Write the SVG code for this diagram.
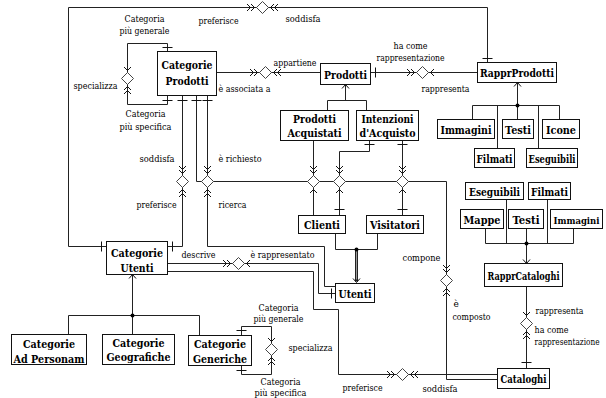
<svg xmlns="http://www.w3.org/2000/svg" xmlns:xlink="http://www.w3.org/1999/xlink" width="606" height="398" viewBox="0 0 606 398">
<style>
.b{fill:#fff;stroke:#111;stroke-width:1}
.t{font-family:"DejaVu Serif",serif;font-size:10.5px;font-weight:700;text-anchor:middle;fill:#000}
.l{font-family:"DejaVu Serif",serif;font-size:9px;fill:#000}
.m{text-anchor:middle}
.e{text-anchor:end}
.c{fill:none;stroke:#222;stroke-width:1}
.dm{fill:#fff;stroke:#444;stroke-width:1}
</style>
<defs>
<path id="c2" d="M-5.5,-3.5 L-2,0 L-5.5,3.5 M-9.5,-3.5 L-6,0 L-9.5,3.5" fill="none" stroke="#111"/>
<path id="c1" d="M-5.5,-3.5 L-2,0 L-5.5,3.5" fill="none" stroke="#111"/>
<path id="ah" d="M-4,-3.5 L0,0 L-4,3.5" fill="none" stroke="#111"/>
<path id="dm" class="dm" d="M-6,0 L0,-6 L6,0 L0,6 Z"/>
<path id="th" d="M0,-5 V5" fill="none" stroke="#111"/>
<path id="tv" d="M-5,0 H5" fill="none" stroke="#111"/>
</defs>
<rect width="606" height="398" fill="#fff"/>
<g transform="translate(0.5,0.5)">
<g id="connectors">
<path class="c" d="M106,246 H68 V7 H487 V62"/>
<path class="c" d="M167,51 V43 H127 V104 H167 V95"/>
<path class="c" d="M216,72 H320"/>
<path class="c" d="M370,72 H477"/>
<path class="c" d="M345,84 V100 M327,110 V100 H366 V110"/>
<path class="c" d="M517,82 V105 M472,119 V105 H559 V119 M497,148 V105 M517,105 V119 M538,148 V105"/>
<path class="c" d="M182,95 V246 H167"/>
<path class="c" d="M196,95 V181 H446 V379 H497"/>
<path class="c" d="M207,95 V246 H324 V286 H335"/>
<path class="c" d="M313,140 V215"/>
<path class="c" d="M369,140 V151 H339 V215"/>
<path class="c" d="M402,140 V215"/>
<path class="c" d="M335,233 V249 H377 V233"/>
<path d="M356,249 V281" fill="none" stroke="#222" stroke-width="3"/>
<path d="M356,250 V279" fill="none" stroke="#999" stroke-width="1"/>
<path class="c" d="M167,263 H318 V293 H335"/>
<path class="c" d="M167,271 H313 V309 H338 V374 H497"/>
<path class="c" d="M132,274 V315 M68,334 V315 H199 V335 M132,315 V334"/>
<path class="c" d="M241,335 V326 H271 V374 H241 V365"/>
<path class="c" d="M526,243 V263 M485,228 V243 H573 V228 M506,199 V243 M526,228 V243 M547,199 V243"/>
<path class="c" d="M526,286 V368"/>
<g fill="#000">
<circle cx="517" cy="105" r="2"/><circle cx="526" cy="243" r="2"/><circle cx="132" cy="315" r="2"/><circle cx="356" cy="249" r="2"/>
</g>
<use xlink:href="#ah" transform="translate(345,84) rotate(-90)"/>
<use xlink:href="#ah" transform="translate(517,82) rotate(-90)"/>
<use xlink:href="#ah" transform="translate(132,274) rotate(-90)"/>
<use xlink:href="#ah" transform="translate(526,263) rotate(90)"/>
<use xlink:href="#ah" transform="translate(356,282) rotate(90)"/>
<use xlink:href="#tv" transform="translate(487,58)"/>
<use xlink:href="#th" transform="translate(375,72)"/>
<use xlink:href="#tv" transform="translate(167,47)"/>
<use xlink:href="#tv" transform="translate(167,100)"/>
<use xlink:href="#tv" transform="translate(182,100)"/>
<use xlink:href="#tv" transform="translate(196,100)"/>
<use xlink:href="#tv" transform="translate(207,100)"/>
<use xlink:href="#tv" transform="translate(369,144)"/>
<use xlink:href="#tv" transform="translate(402,144)"/>
<use xlink:href="#tv" transform="translate(339,209)"/>
<use xlink:href="#tv" transform="translate(402,209)"/>
<use xlink:href="#th" transform="translate(101,246)"/>
<use xlink:href="#th" transform="translate(172,246)"/>
<use xlink:href="#th" transform="translate(331,293)"/>
<use xlink:href="#tv" transform="translate(241,330)"/>
<use xlink:href="#tv" transform="translate(241,370)"/>
<use xlink:href="#tv" transform="translate(526,362)"/>
<use xlink:href="#dm" x="262" y="7"/>
<use xlink:href="#c2" transform="translate(256,7)"/><use xlink:href="#c2" transform="translate(268,7) rotate(180)"/>
<use xlink:href="#dm" x="127" y="78"/>
<use xlink:href="#c1" transform="translate(127,72) rotate(90)"/><use xlink:href="#c2" transform="translate(127,84) rotate(-90)"/>
<use xlink:href="#dm" x="265" y="72"/>
<use xlink:href="#c2" transform="translate(259,72)"/><use xlink:href="#c2" transform="translate(271,72) rotate(180)"/>
<use xlink:href="#dm" x="422" y="72"/>
<use xlink:href="#c2" transform="translate(416,72)"/><use xlink:href="#c1" transform="translate(428,72) rotate(180)"/>
<use xlink:href="#dm" x="182" y="181"/>
<use xlink:href="#c2" transform="translate(182,175) rotate(90)"/><use xlink:href="#c2" transform="translate(182,187) rotate(-90)"/>
<use xlink:href="#dm" x="207" y="181"/>
<use xlink:href="#c2" transform="translate(207,175) rotate(90)"/><use xlink:href="#c2" transform="translate(207,187) rotate(-90)"/>
<use xlink:href="#dm" x="313" y="181"/>
<use xlink:href="#c2" transform="translate(313,175) rotate(90)"/><use xlink:href="#c1" transform="translate(313,187) rotate(-90)"/>
<use xlink:href="#dm" x="339" y="181"/>
<use xlink:href="#c2" transform="translate(339,175) rotate(90)"/><use xlink:href="#c1" transform="translate(339,187) rotate(-90)"/>
<use xlink:href="#dm" x="402" y="181"/>
<use xlink:href="#c2" transform="translate(402,175) rotate(90)"/><use xlink:href="#c1" transform="translate(402,187) rotate(-90)"/>
<use xlink:href="#dm" x="238" y="263"/>
<use xlink:href="#c2" transform="translate(232,263)"/><use xlink:href="#c1" transform="translate(244,263) rotate(180)"/>
<use xlink:href="#dm" x="446" y="280"/>
<use xlink:href="#c2" transform="translate(446,274) rotate(90)"/><use xlink:href="#c2" transform="translate(446,286) rotate(-90)"/>
<use xlink:href="#dm" x="402" y="374"/>
<use xlink:href="#c2" transform="translate(396,374)"/><use xlink:href="#c2" transform="translate(408,374) rotate(180)"/>
<use xlink:href="#dm" x="271" y="349"/>
<use xlink:href="#c1" transform="translate(271,343) rotate(90)"/><use xlink:href="#c2" transform="translate(271,355) rotate(-90)"/>
<use xlink:href="#dm" x="526" y="323"/>
<use xlink:href="#c1" transform="translate(526,317) rotate(90)"/><use xlink:href="#c2" transform="translate(526,329) rotate(-90)"/>
<text class="l m" x="144" y="21" textLength="40" lengthAdjust="spacingAndGlyphs">Categoria</text>
<text class="l m" x="144" y="33" textLength="50" lengthAdjust="spacingAndGlyphs">più generale</text>
<text class="l" x="198" y="23" textLength="40" lengthAdjust="spacingAndGlyphs">preferisce</text>
<text class="l" x="285" y="21" textLength="35" lengthAdjust="spacingAndGlyphs">soddisfa</text>
<text class="l" x="73" y="88" textLength="44" lengthAdjust="spacingAndGlyphs">specializza</text>
<text class="l m" x="145" y="116" textLength="40" lengthAdjust="spacingAndGlyphs">Categoria</text>
<text class="l m" x="145" y="129" textLength="52" lengthAdjust="spacingAndGlyphs">più specifica</text>
<text class="l" x="273" y="65" textLength="43" lengthAdjust="spacingAndGlyphs">appartiene</text>
<text class="l" x="218" y="91" textLength="52" lengthAdjust="spacingAndGlyphs">è associata a</text>
<text class="l m" x="410" y="48" textLength="34" lengthAdjust="spacingAndGlyphs">ha come</text>
<text class="l m" x="410" y="60" textLength="68" lengthAdjust="spacingAndGlyphs">rappresentazione</text>
<text class="l" x="421" y="91" textLength="48" lengthAdjust="spacingAndGlyphs">rappresenta</text>
<text class="l" x="139" y="161" textLength="35" lengthAdjust="spacingAndGlyphs">soddisfa</text>
<text class="l" x="218" y="161" textLength="43" lengthAdjust="spacingAndGlyphs">è richiesto</text>
<text class="l" x="136" y="207" textLength="40" lengthAdjust="spacingAndGlyphs">preferisce</text>
<text class="l" x="218" y="207" textLength="28" lengthAdjust="spacingAndGlyphs">ricerca</text>
<text class="l" x="181" y="257" textLength="34" lengthAdjust="spacingAndGlyphs">descrive</text>
<text class="l" x="250" y="257" textLength="64" lengthAdjust="spacingAndGlyphs">è rappresentato</text>
<text class="l" x="402" y="260" textLength="38" lengthAdjust="spacingAndGlyphs">compone</text>
<text class="l" x="453" y="306">è</text>
<text class="l" x="452" y="319" textLength="38" lengthAdjust="spacingAndGlyphs">composto</text>
<text class="l" x="535" y="313" textLength="48" lengthAdjust="spacingAndGlyphs">rappresenta</text>
<text class="l" x="534" y="332" textLength="34" lengthAdjust="spacingAndGlyphs">ha come</text>
<text class="l e" x="599" y="344" textLength="65" lengthAdjust="spacingAndGlyphs">rappresentazione</text>
<text class="l m" x="278" y="310" textLength="40" lengthAdjust="spacingAndGlyphs">Categoria</text>
<text class="l m" x="278" y="321" textLength="50" lengthAdjust="spacingAndGlyphs">più generale</text>
<text class="l" x="288" y="350" textLength="44" lengthAdjust="spacingAndGlyphs">specializza</text>
<text class="l m" x="280" y="384" textLength="40" lengthAdjust="spacingAndGlyphs">Categoria</text>
<text class="l m" x="280" y="395" textLength="52" lengthAdjust="spacingAndGlyphs">più specifica</text>
<text class="l" x="342" y="390" textLength="40" lengthAdjust="spacingAndGlyphs">preferisce</text>
<text class="l" x="422" y="391" textLength="35" lengthAdjust="spacingAndGlyphs">soddisfa</text>
</g>
<g id="categorie-prodotti"><rect class="b" x="157" y="51" width="59" height="44"/><text class="t" x="186.5" y="68" textLength="51" lengthAdjust="spacingAndGlyphs">Categorie</text><text class="t" x="186.5" y="84" textLength="43" lengthAdjust="spacingAndGlyphs">Prodotti</text></g>
<g id="prodotti"><rect class="b" x="320" y="63" width="50" height="21"/><text class="t" x="345" y="78" textLength="43" lengthAdjust="spacingAndGlyphs">Prodotti</text></g>
<g id="rappr-prodotti"><rect class="b" x="477" y="62" width="79" height="20"/><text class="t" x="516.5" y="76" textLength="74" lengthAdjust="spacingAndGlyphs">RapprProdotti</text></g>
<g id="p-immagini"><rect class="b" x="437" y="119" width="57" height="19"/><text class="t" x="465.5" y="133" textLength="51" lengthAdjust="spacingAndGlyphs">Immagini</text></g>
<g id="p-testi"><rect class="b" x="502" y="119" width="31" height="19"/><text class="t" x="517.5" y="133" textLength="26" lengthAdjust="spacingAndGlyphs">Testi</text></g>
<g id="p-icone"><rect class="b" x="542" y="119" width="37" height="19"/><text class="t" x="560.5" y="133" textLength="30" lengthAdjust="spacingAndGlyphs">Icone</text></g>
<g id="p-filmati"><rect class="b" x="474" y="148" width="40" height="19"/><text class="t" x="494" y="162" textLength="36" lengthAdjust="spacingAndGlyphs">Filmati</text></g>
<g id="p-eseguibili"><rect class="b" x="526" y="148" width="51" height="19"/><text class="t" x="551.5" y="162" textLength="47" lengthAdjust="spacingAndGlyphs">Eseguibili</text></g>
<g id="prodotti-acquistati"><rect class="b" x="280" y="110" width="68" height="30"/><text class="t" x="314" y="122" textLength="43" lengthAdjust="spacingAndGlyphs">Prodotti</text><text class="t" x="314" y="136" textLength="54" lengthAdjust="spacingAndGlyphs">Acquistati</text></g>
<g id="intenzioni-acquisto"><rect class="b" x="356" y="110" width="62" height="30"/><text class="t" x="387" y="122" textLength="52" lengthAdjust="spacingAndGlyphs">Intenzioni</text><text class="t" x="387" y="136" textLength="56" lengthAdjust="spacingAndGlyphs">d'Acquisto</text></g>
<g id="clienti"><rect class="b" x="298" y="215" width="47" height="18"/><text class="t" x="321.5" y="228" textLength="36" lengthAdjust="spacingAndGlyphs">Clienti</text></g>
<g id="visitatori"><rect class="b" x="366" y="215" width="57" height="18"/><text class="t" x="394.5" y="228" textLength="50" lengthAdjust="spacingAndGlyphs">Visitatori</text></g>
<g id="utenti"><rect class="b" x="335" y="283" width="39" height="19"/><text class="t" x="354.5" y="297" textLength="33" lengthAdjust="spacingAndGlyphs">Utenti</text></g>
<g id="categorie-utenti"><rect class="b" x="106" y="241" width="61" height="33"/><text class="t" x="136.5" y="256" textLength="52" lengthAdjust="spacingAndGlyphs">Categorie</text><text class="t" x="136.5" y="271" textLength="33" lengthAdjust="spacingAndGlyphs">Utenti</text></g>
<g id="categorie-ad-personam"><rect class="b" x="11" y="334" width="75" height="30"/><text class="t" x="48.5" y="347" textLength="52" lengthAdjust="spacingAndGlyphs">Categorie</text><text class="t" x="48.5" y="362" textLength="71" lengthAdjust="spacingAndGlyphs">Ad Personam</text></g>
<g id="categorie-geografiche"><rect class="b" x="102" y="334" width="72" height="30"/><text class="t" x="138" y="346" textLength="52" lengthAdjust="spacingAndGlyphs">Categorie</text><text class="t" x="138" y="360" textLength="64" lengthAdjust="spacingAndGlyphs">Geografiche</text></g>
<g id="categorie-generiche"><rect class="b" x="188" y="335" width="63" height="30"/><text class="t" x="219.5" y="347" textLength="52" lengthAdjust="spacingAndGlyphs">Categorie</text><text class="t" x="219.5" y="362" textLength="54" lengthAdjust="spacingAndGlyphs">Generiche</text></g>
<g id="c-eseguibili"><rect class="b" x="465" y="182" width="58" height="17"/><text class="t" x="494" y="195" textLength="51" lengthAdjust="spacingAndGlyphs">Eseguibili</text></g>
<g id="c-filmati"><rect class="b" x="528" y="182" width="42" height="17"/><text class="t" x="549" y="195" textLength="37" lengthAdjust="spacingAndGlyphs">Filmati</text></g>
<g id="c-mappe"><rect class="b" x="460" y="209" width="43" height="19"/><text class="t" x="481.5" y="223" textLength="37" lengthAdjust="spacingAndGlyphs">Mappe</text></g>
<g id="c-testi"><rect class="b" x="508" y="209" width="35" height="19"/><text class="t" x="525.5" y="223" textLength="27" lengthAdjust="spacingAndGlyphs">Testi</text></g>
<g id="c-immagini"><rect class="b" x="550" y="209" width="52" height="19"/><text class="t" x="576" y="223" textLength="46" lengthAdjust="spacingAndGlyphs" style="font-size:9.5px">Immagini</text></g>
<g id="rappr-cataloghi"><rect class="b" x="484" y="263" width="78" height="23"/><text class="t" x="523" y="279" textLength="72" lengthAdjust="spacingAndGlyphs">RapprCataloghi</text></g>
<g id="cataloghi"><rect class="b" x="497" y="368" width="52" height="20"/><text class="t" x="523" y="382" textLength="46" lengthAdjust="spacingAndGlyphs">Cataloghi</text></g>
</g>
</svg>
